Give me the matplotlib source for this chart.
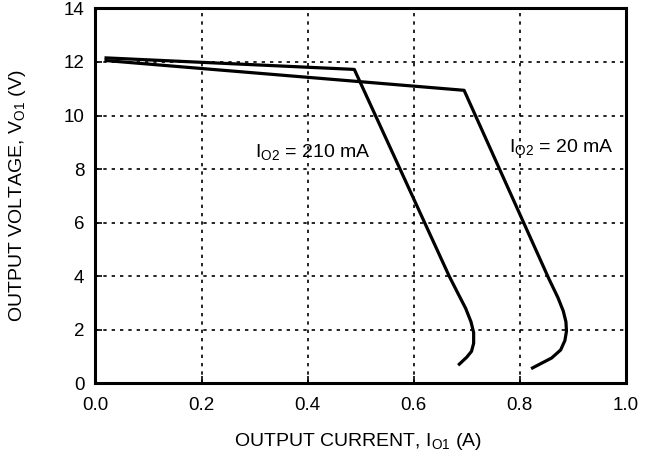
import numpy as np
import matplotlib
matplotlib.use("Agg")
import matplotlib.pyplot as plt

plt.rcParams['font.family'] = ['Liberation Sans', 'DejaVu Sans']
plt.rcParams['mathtext.default'] = 'regular'

# ------------------------
# Data
# ------------------------
i_210 = [0.02, 0.488, 0.667, 0.685, 0.698, 0.708, 0.713, 0.713, 0.709, 0.700, 0.686]
v_210 = [12.15, 11.72, 4.0, 3.3, 2.8, 2.3, 1.9, 1.5, 1.2, 0.98, 0.72]

i_20 = [0.02, 0.695, 0.855, 0.872, 0.882, 0.887, 0.888, 0.885, 0.877, 0.860, 0.824]
v_20 = [12.05, 10.94, 3.9, 3.2, 2.7, 2.3, 1.95, 1.6, 1.25, 0.95, 0.58]

x_ticks = [0.0, 0.2, 0.4, 0.6, 0.8, 1.0]
y_ticks = [0, 2, 4, 6, 8, 10, 12, 14]

fig = plt.figure(figsize=(6.63, 4.62), dpi=100)
ax = fig.add_axes([0.144, 0.170, 0.800, 0.812])

ax.plot(i_210, v_210, color='black', lw=2.3, solid_joinstyle='round')
ax.plot(i_20, v_20, color='black', lw=2.3, solid_joinstyle='round')

ax.set_xlim(0, 1.0)
ax.set_ylim(0, 14)
ax.set_xticks(x_ticks)
ax.set_xticklabels([f"{t:.1f}" for t in x_ticks])
ax.set_yticks(y_ticks)

ax.grid(True, color='black', linestyle=(0, (2, 3)), linewidth=1.2)
for s in ax.spines.values():
    s.set_linewidth(2.2)
ax.tick_params(direction='in', length=5, width=1.2, labelsize=13.5, colors='black')
ax.tick_params(axis='x', pad=10)
ax.tick_params(axis='y', pad=8)

ax.text(0.30, 8.63, r"I$_{O2}$ = 210 mA", fontsize=14, va='center', ha='left')
ax.text(0.78, 8.82, r"I$_{O2}$ = 20 mA", fontsize=14, va='center', ha='left')

ax.set_xlabel(r"OUTPUT CURRENT, I$_{O1}$ (A)", fontsize=14)
ax.set_ylabel(r"OUTPUT VOLTAGE, V$_{O1}$ (V)", fontsize=14)
ax.xaxis.set_label_coords(0.496, -0.128)
ax.yaxis.set_label_coords(-0.127, 0.5)

fig.savefig("out.png", dpi=100)
